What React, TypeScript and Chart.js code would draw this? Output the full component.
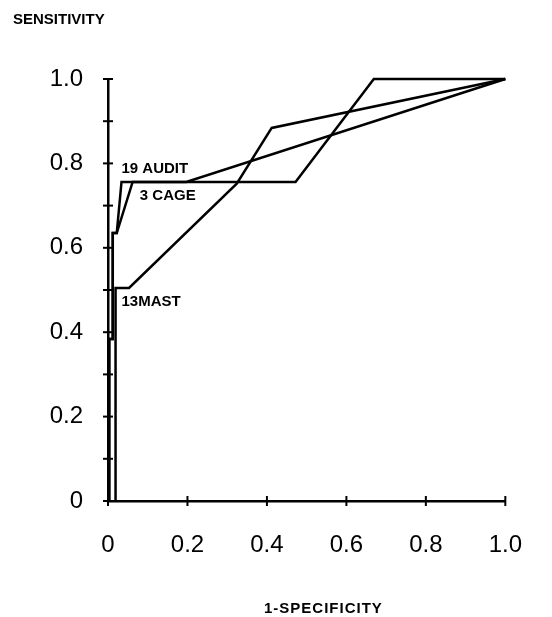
import React, { useEffect, useRef } from "react";
import { Chart, registerables } from "chart.js";

Chart.register(...registerables);

// ---- data ----
const auditX = [0.003, 0.003, 0.012, 0.012, 0.022, 0.034, 0.197, 1.0];
const auditY = [0, 0.384, 0.384, 0.635, 0.635, 0.756, 0.756, 1.0];

const cageX = [0.003, 0.003, 0.012, 0.012, 0.022, 0.062, 0.472, 0.669, 1.0];
const cageY = [0, 0.384, 0.384, 0.635, 0.635, 0.756, 0.756, 1.0, 1.0];

const mastX = [0.019, 0.019, 0.053, 0.324, 0.412, 1.0];
const mastY = [0, 0.505, 0.505, 0.752, 0.884, 1.0];

const curveLabels = ["19 AUDIT", "3 CAGE", "13MAST"];
const curveLabelX = [0.034, 0.08, 0.034];
const curveLabelY = [0.777, 0.713, 0.462];

const yTitle = "SENSITIVITY";
const xTitle = "1-SPECIFICITY";

const FONT = '"Liberation Sans", Arial, sans-serif';

const toPts = (xs: number[], ys: number[]) => xs.map((x, i) => ({ x, y: ys[i] }));

const fmt = (v: number) => {
  const r = Math.round(v * 10);
  if (r % 2 !== 0) return "";
  if (r === 0) return "0";
  return (r / 10).toFixed(1);
};

const crossTicks = {
  id: "crossTicks",
  afterDraw(chart: any) {
    const { ctx, scales } = chart;
    const x = scales.x;
    const y = scales.y;
    ctx.save();
    ctx.strokeStyle = "#000";
    ctx.lineWidth = 2;
    const half = 5;
    y.ticks.forEach((t: any) => {
      const py = y.getPixelForValue(t.value);
      ctx.beginPath();
      ctx.moveTo(x.left - half, py);
      ctx.lineTo(x.left + half, py);
      ctx.stroke();
    });
    x.ticks.forEach((t: any) => {
      const px = x.getPixelForValue(t.value);
      ctx.beginPath();
      ctx.moveTo(px, y.bottom - half);
      ctx.lineTo(px, y.bottom + half);
      ctx.stroke();
    });
    // curve labels
    ctx.fillStyle = "#000";
    ctx.font = `bold 15px ${FONT}`;
    ctx.textBaseline = "alphabetic";
    ctx.textAlign = "left";
    curveLabels.forEach((txt, i) => {
      ctx.fillText(txt, x.getPixelForValue(curveLabelX[i]), y.getPixelForValue(curveLabelY[i]));
    });
    // axis titles
    ctx.font = `bold 15px ${FONT}`;
    ctx.fillText(yTitle, 13, 24);
    (ctx as any).letterSpacing = "1px";
    ctx.fillText(xTitle, 264, 613);
    (ctx as any).letterSpacing = "0px";
    ctx.restore();
  },
};

export default function App() {
  const ref = useRef<HTMLCanvasElement>(null);
  useEffect(() => {
    const lineDs = (label: string, xs: number[], ys: number[]) => ({
      label,
      data: toPts(xs, ys),
      showLine: true,
      borderColor: "#000",
      borderWidth: 2.5,
      pointRadius: 0,
      fill: false,
      tension: 0,
      clip: false as any,
    });
    const chart = new Chart(ref.current as HTMLCanvasElement, {
      type: "scatter",
      data: {
        datasets: [
          lineDs("AUDIT", auditX, auditY),
          lineDs("CAGE", cageX, cageY),
          lineDs("MAST", mastX, mastY),
        ],
      },
      options: {
        animation: false,
        responsive: false,
        devicePixelRatio: 1,
        layout: { padding: { left: 0, right: 27, top: 79, bottom: 0 } },
        plugins: {
          legend: { display: false },
          tooltip: { enabled: false },
          title: { display: false },
        },
        scales: {
          x: {
            type: "linear",
            min: 0,
            max: 1,
            grid: { display: false, drawTicks: false },
            border: { display: true, color: "#000", width: 2.5 },
            ticks: {
              stepSize: 0.2,
              padding: 30,
              color: "#000",
              font: { family: FONT, size: 24 },
              callback: (v: any) => fmt(Number(v)),
            },
            afterFit: (s: any) => {
              s.height = 116;
            },
          },
          y: {
            type: "linear",
            min: 0,
            max: 1,
            grid: { display: false, drawTicks: false },
            border: { display: true, color: "#000", width: 2.5 },
            ticks: {
              stepSize: 0.1,
              padding: 25,
              color: "#000",
              autoSkip: false,
              font: { family: FONT, size: 24 },
              callback: (v: any) => fmt(Number(v)),
            },
            afterFit: (s: any) => {
              s.width = 108;
            },
          },
        },
      },
      plugins: [crossTicks],
    });
    return () => chart.destroy();
  }, []);
  return (
    <div style={{ position: "fixed", left: 0, top: 0, width: 552, height: 617, background: "#fff" }}>
      <canvas ref={ref} width={552} height={617} />
    </div>
  );
}
